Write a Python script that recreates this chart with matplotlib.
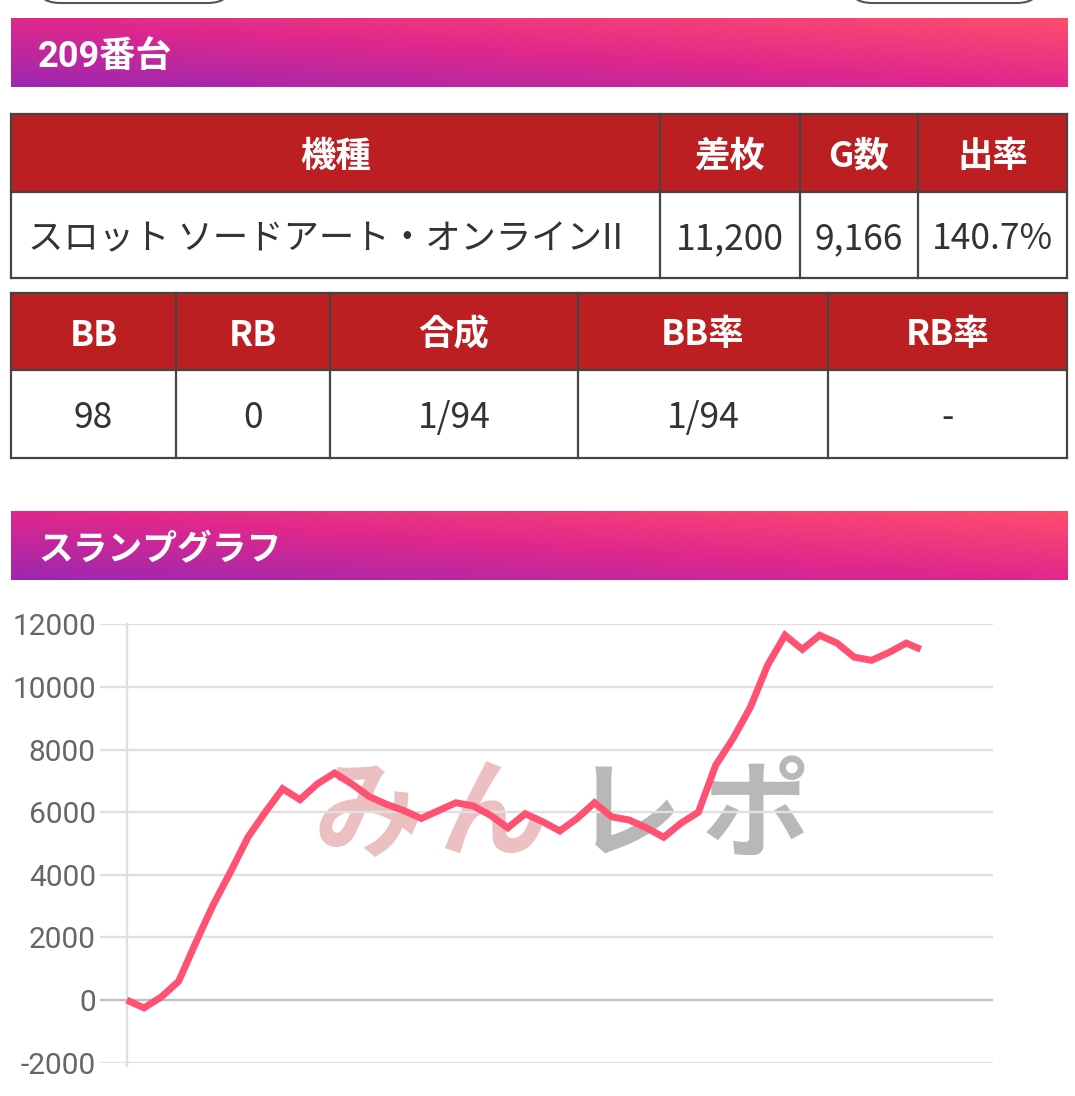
import numpy as np
import matplotlib
matplotlib.use("Agg")
import matplotlib.pyplot as plt
from matplotlib.patches import Rectangle, FancyBboxPatch
from matplotlib.colors import to_rgb

W, H = 1075, 1096

# slump graph data (games -> coin difference)
games = list(range(0, 9001, 200)) + [9166]
diff = [0, -250, 100, 600, 1850, 3050, 4100, 5200, 6000, 6750,
        6400, 6900, 7250, 6900, 6500, 6250, 6050, 5800, 6050, 6300,
        6200, 5900, 5500, 5950, 5700, 5400, 5800, 6300, 5850, 5750,
        5500, 5200, 5650, 6000, 7500, 8350, 9350, 10700, 11650, 11200,
        11650, 11400, 10950, 10850, 11100, 11400, 11200]
yticks = [-2000, 0, 2000, 4000, 6000, 8000, 10000, 12000]
ytick_labels = ["-2000", "0", "2000", "4000", "6000", "8000", "10000", "12000"]

title = "209番台"
graph_title = "スランプグラフ"
head1 = ["機種", "差枚", "G数", "出率"]
row1 = ["スロット ソードアート・オンラインII", "11,200", "9,166", "140.7%"]
head2 = ["BB", "RB", "合成", "BB率", "RB率"]
row2 = ["98", "0", "1/94", "1/94", "-"]

RED = "#bb1f21"
BORDER = "#444444"
JP = ["Noto Sans CJK JP", "DejaVu Sans"]

fig = plt.figure(figsize=(W / 100, H / 100), dpi=100)
fig.patch.set_facecolor("white")

# page layer in pixel coordinates
bg = fig.add_axes([0, 0, 1, 1])
bg.set_xlim(0, W)
bg.set_ylim(H, 0)
bg.axis("off")


def gradient_bar(x0, y0, x1, y1):
    w, h = int(x1 - x0), int(y1 - y0)
    xs = np.linspace(0, 1, w)
    ys = np.linspace(1, 0, h)
    t = (xs[None, :] + ys[:, None]) / 2
    pos = [0, 0.5, 1]
    cols = [to_rgb("#9c27b0"), to_rgb("#e0288c"), to_rgb("#ff4d6d")]
    img = np.zeros((h, w, 3))
    for k in range(3):
        img[..., k] = np.interp(t, pos, [c[k] for c in cols])
    bg.imshow(img, extent=(x0, x1, y1, y0), aspect="auto",
              interpolation="bilinear", zorder=1)


# buttons cut off at the top
for bx, bw in [(35, 198), (847, 195)]:
    bg.add_patch(FancyBboxPatch((bx, -80), bw, 83,
                                boxstyle="round,pad=0,rounding_size=25",
                                fc="white", ec="#555555", lw=1.5, zorder=2))

# section headers
gradient_bar(11, 18, 1068, 87)
bg.text(38, 53, title, color="white", fontsize=26, fontweight="bold",
        family=["Roboto", "Noto Sans CJK JP"], va="center_baseline", zorder=3)
gradient_bar(11, 511, 1068, 580)
bg.text(38, 546, graph_title, color="white", fontsize=25, fontweight="bold",
        family=JP, va="center_baseline", zorder=3)


def table(cols, top, mid, bottom, heads, values, first_left=False):
    bg.add_patch(Rectangle((cols[0], top), cols[-1] - cols[0], mid - top,
                           fc=RED, ec="none", zorder=2))
    bg.add_patch(Rectangle((cols[0], mid), cols[-1] - cols[0], bottom - mid,
                           fc="white", ec="none", zorder=2))
    for yy in (top, mid, bottom):
        bg.plot([cols[0], cols[-1]], [yy, yy], color=BORDER, lw=1.6, zorder=4)
    for xx in cols:
        bg.plot([xx, xx], [top, bottom], color=BORDER, lw=1.6, zorder=4)
    for i, (hd, val) in enumerate(zip(heads, values)):
        cx = (cols[i] + cols[i + 1]) / 2
        bg.text(cx, (top + mid) / 2, hd, color="white", fontsize=25.5,
                fontweight="bold", family=JP, ha="center",
                va="center_baseline", zorder=5)
        if first_left and i == 0:
            bg.text(cols[0] + 17, (mid + bottom) / 2, val, color="#333333",
                    fontsize=25.5, family=JP, ha="left",
                    va="center_baseline", zorder=5)
        else:
            bg.text(cx, (mid + bottom) / 2, val, color="#333333",
                    fontsize=25.5, family=JP, ha="center",
                    va="center_baseline", zorder=5)


table([11, 660, 800, 918, 1067], 114, 192, 278, head1, row1, first_left=True)
table([11, 176, 330, 578, 828, 1067], 293, 370, 458, head2, row2)

# watermark
for ch, cx, col in [("み", 368, "#ecc0c0"), ("ん", 492, "#ecc0c0"),
                    ("レ", 628, "#b8b8b8"), ("ポ", 756, "#b8b8b8")]:
    bg.text(cx, 806, ch, color=col, fontsize=78, fontweight="bold",
            family=JP, ha="center", va="center_baseline", zorder=2)

bg.set_xlim(0, W)
bg.set_ylim(H, 0)

# slump graph
left_px, right_px = 100, 992.9
top_px, bot_px = 624.3, 1062.7
ax = fig.add_axes([left_px / W, 1 - bot_px / H,
                   (right_px - left_px) / W, (bot_px - top_px) / H])
ax.patch.set_alpha(0)
ax.set_xlim(-308, 10000)
ax.set_ylim(-2000, 12000)
for s in ax.spines.values():
    s.set_visible(False)
ax.set_xticks([])
ax.set_yticks(yticks)
ax.set_yticklabels(ytick_labels)
ax.tick_params(axis="y", length=0, pad=3, labelsize=21.5, labelcolor="#666666")
for lab in ax.get_yticklabels():
    lab.set_family("Roboto")

for v in yticks:
    ax.axhline(v, color="#bfbfbf" if v == 0 else "#e0e0e0", lw=1.7, zorder=1)
ax.plot([0, 0], [-2100, 12000], color="#e0e0e0", lw=1.7, zorder=1,
        clip_on=False)

ax.plot(games, diff, color="#ff5272", lw=5, solid_joinstyle="miter",
        solid_capstyle="butt", zorder=3)

fig.savefig("out.png", dpi=100)
